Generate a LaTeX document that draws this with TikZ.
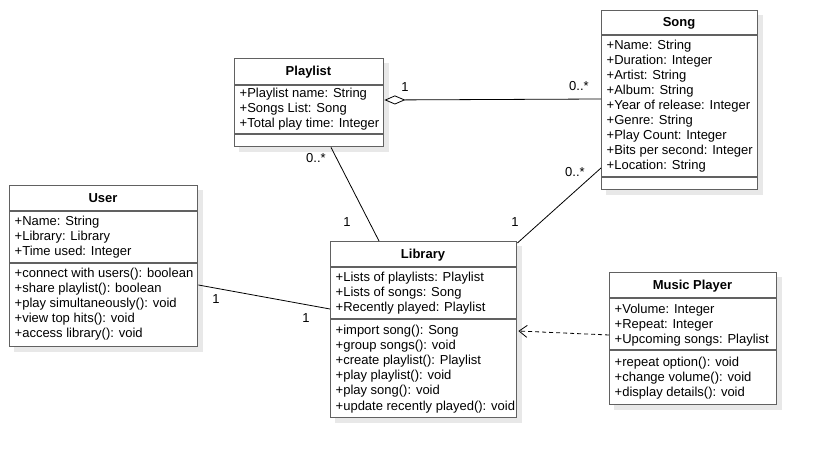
\documentclass[tikz,border=0pt]{standalone}
\usepackage{fontspec}
\setmainfont{Liberation Sans}
\usetikzlibrary{arrows.meta,calc}
\begin{document}
\begin{tikzpicture}[x=1pt,y=-1pt,
  umlbox/.style={draw=black!62, line width=1.4pt, fill=white, rectangle, inner sep=0pt, anchor=north west},
  shadowbox/.style={fill=black!9, draw=none},
  ttl/.style={font=\fontsize{13}{15}\selectfont\bfseries, inner sep=0pt, text height=9pt, text depth=2.5pt, yshift=-1.5pt},
  txt/.style={font=\fontsize{13}{15}\selectfont, anchor=west, inner sep=0pt, text height=9pt, text depth=2.5pt, xshift=1.5pt, yshift=-1.5pt},
  lbl/.style={font=\fontsize{13}{15}\selectfont, inner sep=0pt, text height=9pt, text depth=2.5pt, yshift=-1pt},
  sepline/.style={draw=black!62, line width=1.4pt},
  conn/.style={draw=black, line width=0.8pt}]
\useasboundingbox (0,0) rectangle (815,457);

% ---------- shadows ----------
\fill[shadowbox] (239,63) rectangle (389,152);
\fill[shadowbox] (606,15) rectangle (763,195);
\fill[shadowbox] (14,190) rectangle (203,352);
\fill[shadowbox] (335,246) rectangle (522,423);
\fill[shadowbox] (614,277) rectangle (782,410);

% ---------- Playlist ----------
\node[umlbox, minimum width=149, minimum height=88] (playlist) at (234,58) {};
\draw[sepline] (234,85) -- (383,85);
\draw[sepline] (234,134) -- (383,134);
\node[ttl] (plT) at (308.5,71) {Playlist};
\node[txt] (pl1) at (238,93) {+Playlist name: String};
\node[txt] (pl2) at (238,108) {+Songs List: Song};
\node[txt] (pl3) at (238,123) {+Total play time: Integer};

% ---------- Song ----------
\node[umlbox, minimum width=156, minimum height=179] (song) at (601,10) {};
\draw[sepline] (601,35) -- (757,35);
\draw[sepline] (601,177) -- (757,177);
\node[ttl] (sgT) at (679,22) {Song};
\node[txt] (sg1) at (605,45) {+Name: String};
\node[txt] (sg2) at (605,60) {+Duration: Integer};
\node[txt] (sg3) at (605,75) {+Artist: String};
\node[txt] (sg4) at (605,90) {+Album: String};
\node[txt] (sg5) at (605,105) {+Year of release: Integer};
\node[txt] (sg6) at (605,120) {+Genre: String};
\node[txt] (sg7) at (605,135) {+Play Count: Integer};
\node[txt] (sg8) at (605,150) {+Bits per second: Integer};
\node[txt] (sg9) at (605,165) {+Location: String};

% ---------- User ----------
\node[umlbox, minimum width=188, minimum height=161] (user) at (9,185) {};
\draw[sepline] (9,211) -- (197,211);
\draw[sepline] (9,263) -- (197,263);
\node[ttl] (usT) at (103,198) {User};
\node[txt] (us1) at (13,221) {+Name: String};
\node[txt] (us2) at (13,236) {+Library: Library};
\node[txt] (us3) at (13,251) {+Time used: Integer};
\node[txt] (us4) at (13,273) {+connect with users(): boolean};
\node[txt] (us5) at (13,288) {+share playlist(): boolean};
\node[txt] (us6) at (13,303) {+play simultaneously(): void};
\node[txt] (us7) at (13,318) {+view top hits(): void};
\node[txt] (us8) at (13,333) {+access library(): void};

% ---------- Library ----------
\node[umlbox, minimum width=186, minimum height=176] (library) at (330,241) {};
\draw[sepline] (330,267) -- (516,267);
\draw[sepline] (330,319) -- (516,319);
\node[ttl] (lbT) at (423,254) {Library};
\node[txt] (lb1) at (334,277) {+Lists of playlists: Playlist};
\node[txt] (lb2) at (334,292) {+Lists of songs: Song};
\node[txt] (lb3) at (334,307) {+Recently played: Playlist};
\node[txt] (lb4) at (334,330) {+import song(): Song};
\node[txt] (lb5) at (334,345) {+group songs(): void};
\node[txt] (lb6) at (334,360) {+create playlist(): Playlist};
\node[txt] (lb7) at (334,375) {+play playlist(): void};
\node[txt] (lb8) at (334,390) {+play song(): void};
\node[txt] (lb9) at (334,406) {+update recently played(): void};

% ---------- Music Player ----------
\node[umlbox, minimum width=167, minimum height=132] (player) at (609,272) {};
\draw[sepline] (609,298) -- (776,298);
\draw[sepline] (609,350) -- (776,350);
\node[ttl] (mpT) at (692.5,285) {Music Player};
\node[txt] (mp1) at (613,309) {+Volume: Integer};
\node[txt] (mp2) at (613,324) {+Repeat: Integer};
\node[txt] (mp3) at (613,339) {+Upcoming songs: Playlist};
\node[txt] (mp4) at (613,362) {+repeat option(): void};
\node[txt] (mp5) at (613,377) {+change volume(): void};
\node[txt] (mp6) at (613,392) {+display details(): void};

% ---------- Connectors ----------
\draw[conn, {Diamond[open,length=21pt,width=9pt,line width=0.8pt]}-]
  ($(playlist.north east)+(0,42)$) -- ($(song.north west)+(0,89)$);
\draw[conn] ($(playlist.south west)+(97,0)$) -- ($(library.north west)+(49,0)$);
\draw[conn] ($(song.north west)+(0,158)$) -- ($(library.north east)+(0,2)$);
\draw[conn] ($(user.north east)+(0,100)$) -- ($(library.north west)+(0,68)$);
\draw[conn, dashed, dash pattern=on 4pt off 3pt, -{Straight Barb[length=8pt,width=12pt,line width=0.8pt]}]
  ($(player.north west)+(0,63)$) -- ($(library.north east)+(1,90)$);

% ---------- Multiplicities ----------
\node[lbl] (m1) at (405,87) {1};
\node[lbl] (m2) at (579,86) {0..*};
\node[lbl] (m3) at (316,158) {0..*};
\node[lbl] (m4) at (347,222) {1};
\node[lbl] (m5) at (575,172) {0..*};
\node[lbl] (m6) at (515,222) {1};
\node[lbl] (m7) at (216,299) {1};
\node[lbl] (m8) at (306,318) {1};
\end{tikzpicture}
\end{document}
